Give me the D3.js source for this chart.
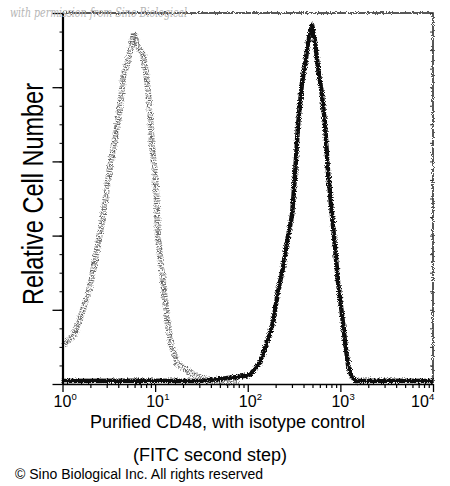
<!DOCTYPE html>
<html>
<head>
<meta charset="utf-8">
<script src="https://cdn.jsdelivr.net/npm/d3@7"></script>
<style>
body { margin: 0; background: #fff; }
text { font-family: "Liberation Sans", Arial, sans-serif; }
</style>
</head>
<body>
<div id="figure-div"></div>
<script>
// tick values
var decades = [1, 10, 100, 1000, 10000];
var decadeExp = ["0", "1", "2", "3", "4"];
var yMajor = [0, 20, 40, 60, 80, 100];

// isotype control histogram (grey, dotted)
var isoX = [1.01, 1.30, 1.62, 1.98, 2.36, 2.74, 3.10, 3.69, 4.18, 4.50, 5.10, 5.63, 5.92, 6.54, 7.40, 8.18, 8.81, 9.26, 9.98, 10.5, 10.7, 11.9, 12.8, 13.8, 15.2, 17.2, 20.0, 22.1, 25.7, 36.3, 50.0, 80.0];
var isoY = [10.5, 12.7, 19.1, 26.1, 36.1, 45.0, 55.0, 66.6, 73.9, 82.7, 87.3, 91.9, 94.6, 90.8, 89.2, 81.9, 73.0, 63.9, 56.9, 47.7, 39.6, 29.9, 22.6, 15.4, 10.0, 5.7, 4.4, 3.8, 2.4, 1.1, 0.6, 0.6];

// purified CD48 histogram (black)
var cd48X = [1.0, 5.0, 30.7, 76.6, 106, 136, 162, 188, 212, 240, 266, 301, 324, 349, 386, 416, 448, 495, 533, 574, 634, 684, 736, 813, 877, 944, 1043, 1124, 1211, 1306, 1442, 3000, 10000];
var cd48Y = [0.8, 0.9, 0.8, 1.9, 2.4, 5.9, 11.3, 16.7, 24.8, 31.3, 38.3, 45.6, 56.3, 69.8, 81.4, 86.0, 92.2, 96.8, 92.2, 85.2, 77.9, 69.8, 57.1, 45.5, 36.7, 27.5, 18.6, 11.3, 5.1, 2.4, 0.8, 0.9, 0.8];

var yTitle = "Relative Cell Number";
var xTitle1 = "Purified CD48, with isotype control";
var xTitle2 = "(FITC second step)";
var copyright = "\u00A9 Sino Biological Inc. All rights reserved";
var watermark = "with permission from Sino Biological";

var w = 450;
var h = 486;
var plotL = 62.5, plotR = 433, plotT = 13, plotB = 384;

var svg = d3.select("#figure-div").append("svg")
	.attr("width", w)
	.attr("height", h);

svg.append("rect").attr("width", w).attr("height", h).attr("fill", "#fff");

// jitter filters for the scanned look
var defs = svg.append("defs");
function addRough(id, freq, scale, seed) {
	var f = defs.append("filter")
		.attr("id", id)
		.attr("filterUnits", "userSpaceOnUse")
		.attr("x", 0).attr("y", 0).attr("width", w).attr("height", h);
	f.append("feTurbulence")
		.attr("type", "fractalNoise")
		.attr("baseFrequency", freq)
		.attr("numOctaves", 2)
		.attr("seed", seed)
		.attr("result", "noise");
	f.append("feDisplacementMap")
		.attr("in", "SourceGraphic")
		.attr("in2", "noise")
		.attr("scale", scale)
		.attr("xChannelSelector", "R")
		.attr("yChannelSelector", "G");
}
addRough("rough", 0.8, 4, 4);
addRough("rough2", 1.2, 5, 7);

var xScale = d3.scaleLog()
	.domain([1, 10000])
	.range([plotL, plotR]);
var yScale = d3.scaleLinear()
	.domain([0, 100])
	.range([plotB, plotT]);

var line = d3.line()
	.x(function(d) { return xScale(d[0]); })
	.y(function(d) { return yScale(d[1]); });

// frame (top and right)
svg.append("path")
	.attr("d", "M" + plotL + "," + plotT + "H" + plotR + "V" + plotB)
	.attr("fill", "none")
	.attr("stroke", "#222")
	.attr("stroke-width", 1.5)
	.attr("filter", "url(#rough)");

// right side inner ticks
svg.append("g")
	.attr("transform", "translate(" + plotR + ",0)")
	.call(d3.axisLeft(yScale).ticks(20).tickSize(3).tickSizeOuter(0).tickFormat(""))
	.call(function(g) { g.select(".domain").remove(); })
	.selectAll("line").attr("stroke", "#333");

// histograms
var isoData = isoX.map(function(x, i) { return [x, isoY[i]]; });
var cdData = cd48X.map(function(x, i) { return [x, cd48Y[i]]; });

svg.append("path")
	.datum(isoData)
	.attr("d", line)
	.attr("fill", "none")
	.attr("stroke", "#606060")
	.attr("stroke-width", 6)
	.attr("stroke-dasharray", "1 1.4")
	.attr("filter", "url(#rough)");

svg.append("path")
	.datum(cdData)
	.attr("d", line)
	.attr("fill", "none")
	.attr("stroke", "#111")
	.attr("stroke-width", 4.5)
	.attr("stroke-linejoin", "round")
	.attr("filter", "url(#rough2)");

// x axis
var xMinor = xScale.ticks().filter(function(v) { return decades.indexOf(v) < 0; });
svg.append("g")
	.attr("transform", "translate(0," + plotB + ")")
	.call(d3.axisBottom(xScale).tickValues(xMinor).tickSize(4).tickSizeOuter(0).tickFormat(""))
	.call(function(g) { g.select(".domain").remove(); })
	.selectAll("line").attr("stroke-width", 1.2);

var xAxisG = svg.append("g")
	.attr("transform", "translate(0," + plotB + ")")
	.call(d3.axisBottom(xScale).tickValues(decades).tickSize(8).tickSizeOuter(0).tickFormat(""));
xAxisG.select(".domain").attr("stroke-width", 1.5);
xAxisG.selectAll("line").attr("stroke-width", 1.3);

// x tick labels 10^n
decades.forEach(function(v, i) {
	var tx = xScale(v) + (i == decades.length - 1 ? -13 : 0);
	svg.append("text")
		.attr("x", tx)
		.attr("y", 407)
		.attr("text-anchor", "middle")
		.style("font-size", "16px")
		.text("10");
	svg.append("text")
		.attr("x", tx + 9)
		.attr("y", 400)
		.style("font-size", "9.5px")
		.text(decadeExp[i]);
});

// y axis
svg.append("g")
	.attr("transform", "translate(" + plotL + ",0)")
	.call(d3.axisLeft(yScale).ticks(20).tickSize(3).tickSizeOuter(0).tickFormat(""))
	.call(function(g) { g.select(".domain").remove(); });

var yAxisG = svg.append("g")
	.attr("transform", "translate(" + plotL + ",0)")
	.call(d3.axisLeft(yScale).tickValues(yMajor).tickSize(10).tickSizeOuter(0).tickFormat(""));
yAxisG.select(".domain").attr("stroke-width", 2.2);
yAxisG.selectAll("line").attr("stroke-width", 1.3);

// titles
svg.append("text")
	.attr("transform", "translate(43,194) rotate(-90)")
	.attr("text-anchor", "middle")
	.attr("textLength", 222)
	.attr("lengthAdjust", "spacingAndGlyphs")
	.style("font-size", "29px")
	.text(yTitle);

svg.append("text")
	.attr("x", 227.5)
	.attr("y", 428)
	.attr("text-anchor", "middle")
	.style("font-size", "18px")
	.text(xTitle1);

svg.append("text")
	.attr("x", 210)
	.attr("y", 461)
	.attr("text-anchor", "middle")
	.style("font-size", "18px")
	.text(xTitle2);

svg.append("text")
	.attr("x", 15)
	.attr("y", 479)
	.attr("textLength", 248)
	.attr("lengthAdjust", "spacingAndGlyphs")
	.style("font-size", "14px")
	.text(copyright);

svg.append("text")
	.attr("x", 10)
	.attr("y", 17)
	.attr("textLength", 177)
	.attr("lengthAdjust", "spacingAndGlyphs")
	.style("font-family", "'DejaVu Serif', serif")
	.style("font-style", "italic")
	.style("font-size", "12px")
	.attr("fill", "#b5b5b5")
	.text(watermark);
</script>
</body>
</html>
